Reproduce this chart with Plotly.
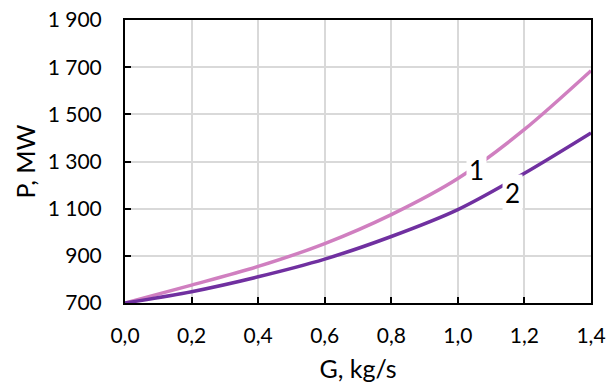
import plotly.graph_objects as go

G = [0.0, 0.2, 0.4, 0.6, 0.8, 1.0, 1.2, 1.4]
P1 = [700, 776, 855, 952, 1075, 1228, 1436, 1685]
P2 = [700, 748, 811, 886, 982, 1096, 1250, 1421]
curve_names = ["1", "2"]
label_pos = [(1.057, 1262), (1.163, 1168)]

PINK = "#D07FC0"
PURPLE = "#7030A0"
FONT = "Lato"

fig = go.Figure()
for name, ys, col in zip(curve_names, [P1, P2], [PINK, PURPLE]):
    fig.add_trace(go.Scatter(x=G, y=ys, mode="lines", name=name,
                             line=dict(color=col, width=3.5, shape="spline", smoothing=0.8),
                             showlegend=False))

for name, (lx, ly) in zip(curve_names, label_pos):
    fig.add_annotation(x=lx, y=ly, text=name, showarrow=False,
                       font=dict(family=FONT, size=26, color="black"),
                       bgcolor="white", borderpad=2)

axis_common = dict(showline=True, mirror=True, linecolor="black", linewidth=2,
                   showgrid=True, gridcolor="#D9D9D9", gridwidth=1.5,
                   ticks="inside", ticklen=6, tickwidth=2, tickcolor="black",
                   tickfont=dict(family=FONT, size=21, color="black"),
                   zeroline=False, automargin=False)

fig.update_xaxes(range=[0, 1.4], dtick=0.2, tick0=0, tickformat=".1f",
                 title=dict(text="G, kg/s", font=dict(family=FONT, size=25, color="black"), standoff=18),
                 ticklabelstandoff=13, **axis_common)
fig.update_yaxes(range=[700, 1900], dtick=200, tick0=700, tickformat=",d",
                 title=dict(text="P, MW", font=dict(family=FONT, size=25, color="black"), standoff=5),
                 ticklabelstandoff=17, **axis_common)

fig.update_layout(width=616, height=383, margin=dict(l=125, r=25, t=20, b=80),
                  plot_bgcolor="white", paper_bgcolor="white", separators=", ")

fig.write_html("out.html")
